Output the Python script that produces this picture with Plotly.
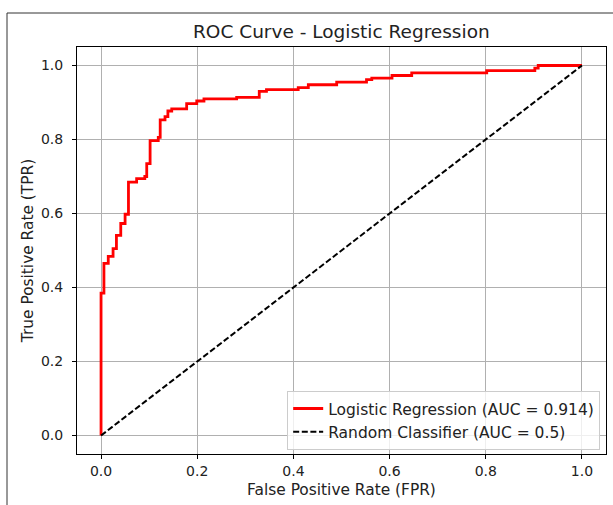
import plotly.graph_objects as go

# ROC curve points (staircase corners)
fpr = [0.0, 0.0, 0.006, 0.006, 0.015, 0.015, 0.025, 0.025, 0.032, 0.032,
       0.041, 0.041, 0.050, 0.050, 0.057, 0.057, 0.074, 0.074, 0.091, 0.091,
       0.095, 0.095, 0.102, 0.102, 0.119, 0.119, 0.123, 0.123, 0.133, 0.133,
       0.139, 0.139, 0.147, 0.147, 0.178, 0.178, 0.199, 0.199, 0.214, 0.214,
       0.282, 0.282, 0.329, 0.329, 0.344, 0.344, 0.410, 0.410, 0.431, 0.431,
       0.490, 0.490, 0.552, 0.552, 0.563, 0.563, 0.605, 0.605, 0.646, 0.646,
       0.802, 0.802, 0.902, 0.902, 0.909, 0.909, 1.0]
tpr = [0.0, 0.385, 0.385, 0.465, 0.465, 0.484, 0.484, 0.505, 0.505, 0.541,
       0.541, 0.573, 0.573, 0.598, 0.598, 0.685, 0.685, 0.694, 0.694, 0.700,
       0.700, 0.735, 0.735, 0.797, 0.797, 0.806, 0.806, 0.853, 0.853, 0.862,
       0.862, 0.877, 0.877, 0.883, 0.883, 0.897, 0.897, 0.904, 0.904, 0.910,
       0.910, 0.914, 0.914, 0.930, 0.930, 0.935, 0.935, 0.940, 0.940, 0.948,
       0.948, 0.955, 0.955, 0.962, 0.962, 0.966, 0.966, 0.973, 0.973, 0.980,
       0.980, 0.986, 0.986, 0.993, 0.993, 1.0, 1.0]
random_x = [0.0, 1.0]
random_y = [0.0, 1.0]
auc_lr = 0.914
auc_rand = 0.5
ticks = [0.0, 0.2, 0.4, 0.6, 0.8, 1.0]
tick_text = ["0.0", "0.2", "0.4", "0.6", "0.8", "1.0"]

FONT = "DejaVu Sans"

fig = go.Figure()
fig.add_trace(go.Scatter(x=fpr, y=tpr, mode="lines",
                         line=dict(color="#ff0000", width=2.8),
                         name=f"Logistic Regression (AUC = {auc_lr})"))
fig.add_trace(go.Scatter(x=random_x, y=random_y, mode="lines",
                         line=dict(color="black", width=2, dash="6px,2.6px"),
                         name=f"Random Classifier (AUC = {auc_rand})"))

axis_common = dict(range=[-0.05, 1.05], tickvals=ticks, ticktext=tick_text,
                   showgrid=True, gridcolor="#b0b0b0", gridwidth=0.8,
                   zeroline=False, showline=True, linecolor="black", linewidth=1,
                   mirror=True, ticks="outside", ticklen=4, tickcolor="black",
                   tickfont=dict(family=FONT, size=14, color="#222"),
                   automargin=False)

fig.update_layout(
    width=613, height=505,
    margin=dict(l=77, r=7, t=47, b=51),
    paper_bgcolor="white", plot_bgcolor="white",
    font=dict(family=FONT, color="#222"),
    xaxis=dict(axis_common, title=dict(text="False Positive Rate (FPR)",
                                       font=dict(family=FONT, size=15.4), standoff=6)),
    yaxis=dict(axis_common, ticklabelstandoff=6,
               title=dict(text="True Positive Rate (TPR)",
                          font=dict(family=FONT, size=15.4), standoff=3)),
    showlegend=True,
    legend=dict(x=0.989, y=0.01, xanchor="right", yanchor="bottom",
                bgcolor="rgba(255,255,255,0.8)", bordercolor="#cccccc", borderwidth=1,
                font=dict(family=FONT, size=15.5, color="#222"), tracegroupgap=0,
                itemwidth=30),
    annotations=[dict(text="ROC Curve - Logistic Regression", x=0.5, y=1.0,
                      xref="paper", yref="paper", xanchor="center", yanchor="bottom",
                      yshift=3, showarrow=False,
                      font=dict(family=FONT, size=18.5, color="#222"))],
    shapes=[dict(type="rect", xref="paper", yref="paper",
                 x0=(7 - 77) / 529, x1=1.2, y0=-0.3, y1=(454 - 13) / 407,
                 line=dict(color="#333333", width=1), layer="below")],
)

fig.write_html("out.html", config={"displayModeBar": False},
               post_script="document.body.style.margin='0';document.body.style.padding='0';")
